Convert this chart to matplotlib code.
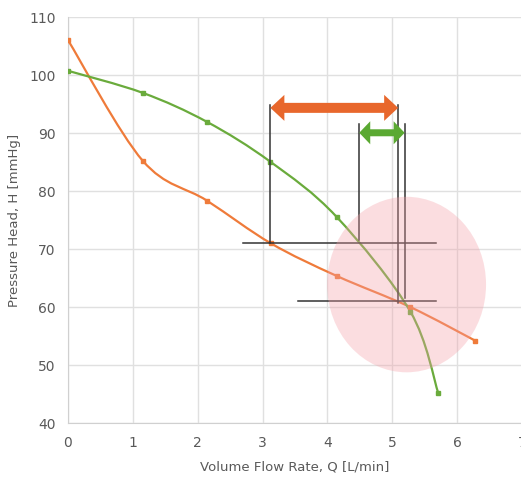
import matplotlib
matplotlib.use("Agg")
import matplotlib.pyplot as plt
from matplotlib.path import Path
from matplotlib.patches import PathPatch, Ellipse, Polygon
import numpy as np

# Data
green_q = [0.0, 1.15, 2.14, 3.12, 4.14, 5.28, 5.71]
green_h = [100.8, 97.0, 92.0, 85.1, 75.6, 59.2, 45.1]
orange_q = [0.0, 1.15, 2.14, 3.13, 4.14, 5.28, 6.28]
orange_h = [106.1, 85.3, 78.4, 71.0, 65.4, 60.0, 54.2]

xticks = [0, 1, 2, 3, 4, 5, 6, 7]
yticks = [40, 50, 60, 70, 80, 90, 100, 110]

# annotation values
orange_arrow = (3.12, 5.09, 94.4)
green_arrow = (4.49, 5.19, 90.1)
vlines = [(3.12, 71.0, 94.9), (4.49, 71.6, 91.6), (5.09, 60.8, 94.9), (5.19, 61.5, 91.6)]
hlines = [(71.0, 2.7, 5.67), (61.0, 3.55, 5.67)]
circle = (5.22, 63.9, 2.45, 30.3)

GREEN = "#6aab3c"
ORANGE = "#ef7b3a"


def smooth_path(xs, ys):
    pts = np.column_stack([xs, ys]).astype(float)
    n = len(pts)
    verts = [pts[0]]
    codes = [Path.MOVETO]
    for i in range(n - 1):
        p0 = pts[i - 1] if i > 0 else pts[i]
        p1 = pts[i]
        p2 = pts[i + 1]
        p3 = pts[i + 2] if i + 2 < n else pts[i + 1]
        c1 = p1 + (p2 - p0) / 6.0
        c2 = p2 - (p3 - p1) / 6.0
        verts += [c1, c2, p2]
        codes += [Path.CURVE4] * 3
    return Path(verts, codes)


fig = plt.figure(figsize=(5.21, 4.82), dpi=100)
ax = fig.add_axes([0.1305, 0.1224, 0.8715, 0.8413])
ax.set_xlim(0, 7)
ax.set_ylim(40, 110)
ax.set_xticks(xticks)
ax.set_yticks(yticks)
ax.grid(True, color="#e0e0e0", linewidth=1.0)
ax.set_axisbelow(True)
for s in ["top", "right"]:
    ax.spines[s].set_visible(False)
for s in ["left", "bottom"]:
    ax.spines[s].set_color("#d0d0d0")
ax.tick_params(length=0, pad=9, labelsize=10, colors="#595959")
ax.set_xlabel("Volume Flow Rate, Q [L/min]", fontsize=9.5, color="#595959", labelpad=8)
ax.set_ylabel("Pressure Head, H [mmHg]", fontsize=9.5, color="#595959", labelpad=6)

# curves
ax.add_patch(PathPatch(smooth_path(orange_q, orange_h), fill=False, edgecolor=ORANGE, lw=1.6, zorder=3))
ax.add_patch(PathPatch(smooth_path(green_q, green_h), fill=False, edgecolor=GREEN, lw=1.6, zorder=3))
ax.plot(orange_q, orange_h, ls="none", marker="s", ms=3.5, color=ORANGE, zorder=4)
ax.plot(green_q, green_h, ls="none", marker="s", ms=3.5, color=GREEN, zorder=4)

# guide lines
for x, y0, y1 in vlines:
    ax.plot([x, x], [y0, y1], color="#333333", lw=1.1, zorder=5)
for y, x0, x1 in hlines:
    ax.plot([x0, x1], [y, y], color="#333333", lw=1.1, zorder=5)

# pixel -> data scale
pos = ax.get_position()
W, H = fig.get_size_inches() * fig.dpi
sx = 7.0 / (pos.width * W)    # data x per pixel
sy = 70.0 / (pos.height * H)  # data y per pixel


def double_arrow(x0, x1, y, color, head_w, head_l, tail_w):
    hw, hl, tw = head_w / 2 * sy, head_l * sx, tail_w / 2 * sy
    pts = [(x0, y), (x0 + hl, y + hw), (x0 + hl, y + tw), (x1 - hl, y + tw),
           (x1 - hl, y + hw), (x1, y), (x1 - hl, y - hw), (x1 - hl, y - tw),
           (x0 + hl, y - tw), (x0 + hl, y - hw)]
    ax.add_patch(Polygon(pts, closed=True, facecolor=color, edgecolor="none", zorder=6))

double_arrow(orange_arrow[0], orange_arrow[1], orange_arrow[2], "#e8672c", 26, 14, 10)
double_arrow(green_arrow[0], green_arrow[1], green_arrow[2], "#5aa932", 23, 11, 7)

# highlight circle
cx, cy, w, h = circle
ax.add_patch(Ellipse((cx, cy), w, h, facecolor="#f4a0a8", alpha=0.35, edgecolor="none", zorder=7))

fig.savefig("out.png", dpi=100)
